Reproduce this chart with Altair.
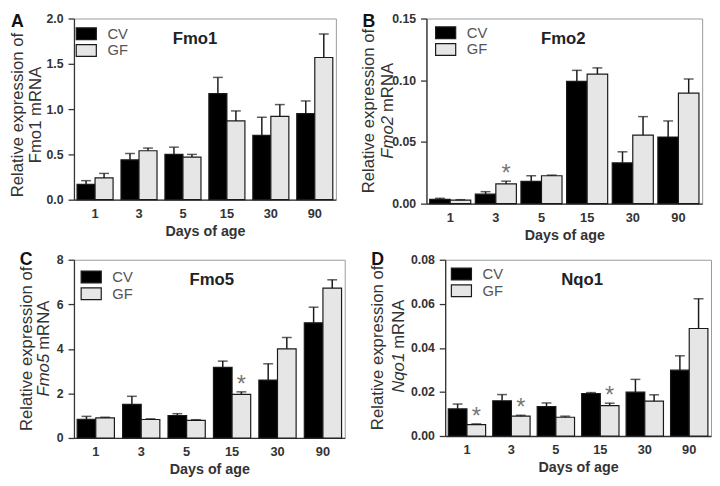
import altair as alt
import pandas as pd

days = ["1", "3", "5", "15", "30", "90"]
groups = ["CV", "GF"]

fmo1_cv = [0.17, 0.44, 0.50, 1.17, 0.71, 0.95]
fmo1_cv_err = [0.04, 0.07, 0.08, 0.18, 0.20, 0.14]
fmo1_gf = [0.24, 0.54, 0.47, 0.87, 0.92, 1.57]
fmo1_gf_err = [0.05, 0.03, 0.03, 0.11, 0.13, 0.26]

fmo2_cv = [0.0035, 0.0077, 0.018, 0.099, 0.033, 0.054]
fmo2_cv_err = [0.0008, 0.002, 0.0046, 0.009, 0.009, 0.013]
fmo2_gf = [0.0028, 0.016, 0.0226, 0.105, 0.0555, 0.0895]
fmo2_gf_err = [0.0004, 0.0022, 0.0005, 0.005, 0.015, 0.0115]

fmo5_cv = [0.84, 1.51, 1.01, 3.17, 2.60, 5.17]
fmo5_cv_err = [0.13, 0.36, 0.08, 0.28, 0.73, 0.70]
fmo5_gf = [0.90, 0.83, 0.79, 1.96, 4.00, 6.73]
fmo5_gf_err = [0.03, 0.03, 0.03, 0.11, 0.51, 0.37]

nqo1_cv = [0.0123, 0.0160, 0.0133, 0.0193, 0.0199, 0.0299]
nqo1_cv_err = [0.0022, 0.0028, 0.0017, 0.0004, 0.0058, 0.0065]
nqo1_gf = [0.0052, 0.0090, 0.0085, 0.0138, 0.0158, 0.0488]
nqo1_gf_err = [0.0003, 0.0004, 0.0005, 0.0011, 0.0029, 0.0135]

fmo1_stars = []
fmo2_stars = ["3"]
fmo5_stars = ["15"]
nqo1_stars = ["1", "3", "15"]

FONT = "Liberation Sans"
DARK = "#1a1a1a"
YT = 17


def make_df(cv, cv_err, gf, gf_err, star_days):
    rows = []
    for i, d in enumerate(days):
        rows.append(dict(day=d, group="CV", value=cv[i], top=cv[i] + cv_err[i], star=""))
        rows.append(dict(day=d, group="GF", value=gf[i], top=gf[i] + gf_err[i],
                         star="*" if d in star_days else ""))
    return pd.DataFrame(rows)


def label(text, x, y, size, weight="normal", style="normal", angle=0,
          align="center", baseline="middle", color="#222", dx=0):
    return alt.Chart(pd.DataFrame({"t": [text]})).mark_text(
        font=FONT, fontSize=size, fontWeight=weight, fontStyle=style, angle=angle,
        align=align, baseline=baseline, color=color, dx=dx
    ).encode(x=alt.value(x), y=alt.value(y), text="t:N")


def panel(letter, gene, italic, cv, cv_err, gf, gf_err, star_days, ymax, ticks, fmt,
          w, h, pinner, letter_x, letter_y, l1_x, l2_x, yt_shift, leg_x, leg_y, title_x):
    df = make_df(cv, cv_err, gf, gf_err, star_days)
    xenc = alt.X(
        "day:N", sort=days,
        scale=alt.Scale(paddingInner=pinner, paddingOuter=0.07),
        axis=alt.Axis(title="Days of age", labelAngle=0, ticks=False, tickSize=0,
                      labelPadding=8, titlePadding=4, labelFont=FONT, labelFontSize=13,
                      labelFontWeight="bold", labelColor="#333", titleFont=FONT,
                      titleFontSize=14.5, titleFontWeight="bold", titleColor="#333",
                      domainColor="#333", domainWidth=1.3),
    )
    xo = alt.XOffset("group:N", sort=groups, scale=alt.Scale(paddingInner=0, paddingOuter=0))
    yenc = alt.Y(
        "value:Q", scale=alt.Scale(domain=[0, ymax], nice=False, zero=True),
        axis=alt.Axis(title=None, values=ticks, format=fmt, grid=False, tickSize=6,
                      tickColor="#333", tickWidth=1.3, labelPadding=5, labelFont=FONT,
                      labelFontSize=12.5, labelFontWeight="bold", labelColor="#333",
                      domainColor="#333", domainWidth=1.3),
    )
    base = alt.Chart(df).encode(x=xenc, xOffset=xo)
    bars = base.mark_bar(stroke=DARK, strokeWidth=1.2).encode(
        y=yenc,
        fill=alt.Fill(
            "group:N", sort=groups,
            scale=alt.Scale(domain=groups, range=["#000000", "#e6e6e6"]),
            legend=alt.Legend(title=None, orient="none", legendX=leg_x, legendY=leg_y,
                              padding=0, symbolType="M-1.7,-1H1.7V1H-1.7Z", symbolSize=144,
                              symbolStrokeColor=DARK, symbolStrokeWidth=1.2,
                              labelFont=FONT, labelFontSize=15, labelColor="#555",
                              labelOffset=14, rowPadding=0, symbolOpacity=1),
        ),
    )
    err = base.mark_rule(color=DARK, strokeWidth=1.5).encode(
        y=alt.Y("value:Q", title=None), y2="top:Q")
    cap = base.mark_tick(color=DARK, thickness=1.5, size=10, orient="horizontal").encode(
        y=alt.Y("top:Q", title=None))
    stars = base.transform_filter(alt.datum.star == "*").mark_text(
        font=FONT, fontSize=24, color="#777", baseline="alphabetic", dy=0
    ).encode(y=alt.Y("top:Q", title=None), text="star:N")

    cy = h / 2 + yt_shift
    layers = [bars, err, cap, stars,
              label(letter, letter_x, letter_y, 18, weight="bold", align="left",
                    baseline="alphabetic", color="#111"),
              label(gene, title_x, 26, 17, weight="bold", baseline="alphabetic", color="#222"),
              label("Relative expression of", l1_x, cy, YT, angle=270, color="#333")]
    if italic:
        layers.append(label(gene, l2_x, cy + 5, YT, style="italic", angle=270,
                            align="right", color="#333"))
        layers.append(label("mRNA", l2_x, cy + 5, YT, angle=270, align="left",
                            color="#333", dx=4))
    else:
        layers.append(label(gene + " mRNA", l2_x, cy, YT, angle=270, color="#333"))
    return alt.layer(*layers).properties(width=w, height=h)


A = panel("A", "Fmo1", False, fmo1_cv, fmo1_cv_err, fmo1_gf, fmo1_gf_err, fmo1_stars,
          2.0, [0, 0.5, 1.0, 1.5, 2.0], ".1f", 266, 184, 0.18, -64, 9, -57, -38, 6, 5, 8, 123)
B = panel("B", "Fmo2", True, fmo2_cv, fmo2_cv_err, fmo2_gf, fmo2_gf_err, fmo2_stars,
          0.15, [0, 0.05, 0.10, 0.15], ".2f", 280, 188, 0.10, -65, 9, -58, -39, 0, 12, 7, 139)
C = panel("C", "Fmo5", True, fmo5_cv, fmo5_cv_err, fmo5_gf, fmo5_gf_err, fmo5_stars,
          8, [0, 2, 4, 6, 8], "d", 275, 181, 0.18, -55, 5, -48, -30, 0, 10, 10, 140)
D = panel("D", "Nqo1", True, nqo1_cv, nqo1_cv_err, nqo1_gf, nqo1_gf_err, nqo1_stars,
          0.08, [0, 0.02, 0.04, 0.06, 0.08], ".2f", 270, 179, 0.16, -75, 5, -68, -47, 0, 9, 7, 139)


def res(c):
    return c.resolve_scale(fill="independent", xOffset="independent").resolve_legend(
        fill="independent")


row1 = res(alt.hconcat(A, B, spacing=23))
row2 = res(alt.hconcat(C, D, spacing=23))
chart = res(alt.vconcat(row1, row2, spacing=8)).properties(
    padding={"left": 0, "top": 0, "right": 0, "bottom": 0}, background="white"
).configure(padding={"left": 0, "top": 0, "right": 0, "bottom": 0}).configure_view(
    stroke="#999", strokeWidth=1)

chart.save("out.html", embed_options={"renderer": "svg", "actions": False})
